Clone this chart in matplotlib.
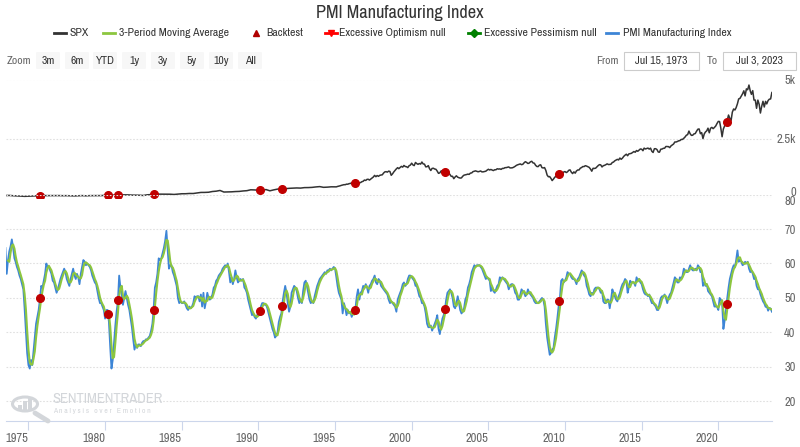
import numpy as np
import pandas as pd
import matplotlib
matplotlib.use("Agg")
from matplotlib import pyplot as plt
from matplotlib import font_manager
import matplotlib.dates as mdates
from matplotlib.lines import Line2D
from matplotlib.patches import FancyBboxPatch, Circle, Rectangle
from matplotlib.transforms import offset_copy


# PMI Manufacturing Index, one value per month (Jun 1973 .. Jun 2023),
# plotted on the release date (first day of the following month)
pmi_1970s = [64.5, 57, 61, 63.5, 65, 67, 64.5,
             61.5, 60.5, 59, 58, 56.5, 55.5, 54, 52.5, 47, 40.5, 34, 30.5,
             29.5, 32, 30.5, 34.5, 38.5, 42.5, 44.5, 46.5, 49.5, 53.5, 53, 55,
             57, 60, 59, 59, 58, 57, 55, 54.5, 53, 51.5, 52.5, 54,
             55.5, 56.5, 57.5, 58.5, 57.5, 55.5, 54.5, 53.5, 55.5, 57, 58.5, 56.5,
             55.5, 57, 56, 54, 57, 59, 61, 60.5, 59.5, 60, 59.5, 59,
             58, 56.5, 55.5, 54.5, 54, 52, 50, 48.5, 48.5, 47.5, 46.5, 44]
pmi_1980s = [46.5, 46.5, 43, 36, 29.5, 32, 37, 42, 46, 49, 56.5, 53,
             51, 48, 50, 52, 50, 48, 46.5, 44, 41.5, 38, 35, 36.5,
             35.5, 36.5, 36.5, 36, 37, 37.5, 37.5, 38, 38, 38.5, 39, 40.5,
             42.5, 46.5, 53, 54.5, 57, 61.5, 61, 61.5, 63, 64.5, 66.5, 69.5,
             64, 58.5, 59.5, 59.5, 57.5, 56.5, 55, 53.5, 50, 48.5, 49, 48.5,
             48.5, 49, 48, 47, 46.5, 47.5, 47, 47.5, 48.5, 50.5, 50, 50.5,
             50.5, 49, 51, 47.5, 51.5, 47, 49, 51.5, 50, 49.5, 50, 51,
             53, 53.5, 55, 55.5, 56.5, 57, 57.5, 58.5, 59, 59.5, 59, 60,
             57.5, 54.5, 56, 54, 55.5, 58, 56, 54.5, 55, 55.5, 55, 55.5,
             53, 52.5, 51.5, 49.5, 48, 46.5, 45, 45.5, 44.5, 44, 45, 45.5]
pmi_1990s = [46, 47.5, 48.5, 48.5, 48, 48, 47, 45.5, 44, 42.5, 41, 40,
             38.5, 39, 40, 43, 44.5, 45.5, 49, 51.5, 53.5, 51.5, 48.5, 46,
             47.5, 51.5, 52.5, 53.5, 53, 52, 50, 48.5, 49.5, 48.5, 52, 54.5,
             55, 53.5, 51.5, 49.5, 48.5, 49, 48.5, 50.5, 52, 53.5, 54.5, 55.5,
             56, 56.5, 57, 57.5, 57, 58, 58, 58.5, 58, 58.5, 59, 58.5,
             56, 53.5, 51.5, 50.5, 49.5, 45.5, 48.5, 47, 45, 46.5, 45.5, 46,
             44.5, 45.5, 45.5, 47, 50.5, 52.5, 49.5, 51.5, 52, 53.5, 53, 54,
             53, 51.5, 53.5, 54, 55, 55.5, 56.5, 54.5, 54, 55.5, 55, 53.5,
             53, 52.5, 52, 51.5, 51, 49.5, 48.5, 49, 48.5, 48, 47.5, 46,
             49.5, 50.5, 51.5, 52.5, 54, 54.5, 53.5, 54, 55.5, 56.5, 56.5, 56]
pmi_2000s = [55.5, 55, 53.5, 53.5, 52, 50.5, 50, 48.5, 48.5, 47.5, 45.5, 42.5,
             41.5, 41.5, 42, 40.5, 41.5, 42.5, 43.5, 45, 41, 39.5, 42, 44,
             45, 46.5, 49.5, 51.5, 52, 52.5, 51.5, 50, 47.5, 47, 48.5, 50.5,
             48.5, 46.5, 45.5, 46, 47, 49.5, 50.5, 53, 54, 55.5, 57.5, 58.5,
             59.5, 59, 59.5, 59.5, 59.5, 59, 58.5, 57.5, 56.5, 55.5, 56, 55.5,
             55, 52, 53, 52, 51.5, 52.5, 53.5, 54, 56, 55.5, 56, 55.5,
             55, 54.5, 54, 52.5, 53.5, 54, 54, 53, 51.5, 51, 49.5, 49.5,
             51, 52.5, 52, 51.5, 50.5, 51, 52.5, 51.5, 51, 50.5, 50, 49,
             48.5, 48.5, 48.5, 49, 49.5, 50, 49.5, 47.5, 42.5, 38.5, 36, 33.5,
             34, 35, 35.5, 38.5, 41, 44, 47.5, 50, 55, 55.5, 54.5, 55]
pmi_2010s = [56, 57.5, 57, 57, 56, 55.5, 55.5, 55, 54, 55.5, 56, 57,
             58, 57.5, 56.5, 56, 53.5, 52.5, 51, 50.5, 51.5, 51, 52.5, 53,
             53, 53, 52.5, 51.5, 52, 49, 48.5, 48.5, 49.5, 49.5, 47, 49.5,
             52.5, 51.5, 50.5, 49.5, 49, 50.5, 51.5, 53, 54, 54.5, 55.5, 55,
             51.5, 53, 55, 54.5, 54.5, 54.5, 53.5, 56, 55, 55.5, 54.5, 54,
             52.5, 51.5, 51, 51, 50.5, 51, 49.5, 48.5, 48.5, 48, 47.5, 46.5,
             46.5, 48.5, 50, 50.5, 50.5, 51, 50, 48.5, 50, 51, 51.5, 53,
             54.5, 56, 55.5, 54.5, 54.5, 56, 55.5, 56.5, 58.5, 58, 57.5, 57.5,
             58.5, 59.5, 58.5, 58, 58, 58.5, 58, 59.5, 59, 57.5, 57.5, 53.5,
             54.5, 53.5, 54, 52, 51.5, 51, 50.5, 49, 47.5, 47.5, 47.5, 46.5]
pmi_2020s = [50, 49.5, 48.5, 41, 43.5, 46.5, 50, 53, 55.5, 57, 58.5, 59.5,
             59, 61, 63.8, 60.5, 61, 60.5, 59.5, 59.8, 60.5, 60, 60.5, 58.5,
             57.5, 58, 57, 55.5, 56, 53.5, 52.5, 52.5, 51, 50, 49, 48.4,
             47.4, 47.7, 46.3, 47.1, 46.9, 46]

# S&P 500: quarterly 1973-1994, month-end closes 1995-2023
spx_quarterly = [105, 108,
                 96, 90, 80, 70, 77, 87, 89, 89, 101, 102, 104, 102,
                 102, 98, 99, 92, 89, 97, 101, 93, 100, 101, 104, 102,
                 114, 106, 122, 127, 130, 133, 131, 122, 120, 116, 107, 134,
                 145, 164, 163, 163, 163, 160, 150, 166, 179, 180, 191, 190,
                 212, 235, 236, 243, 274, 288, 318, 252, 257, 261, 272, 278,
                 297, 309, 346, 340, 329, 330, 356, 304, 343, 375, 387, 392,
                 408, 414, 424, 418, 438, 440, 448, 467, 481, 450, 458, 472]
spx_1990s = [470, 487, 500, 514, 533, 545, 562, 561, 584, 582, 605, 615,
             636, 640, 645, 654, 669, 670, 639, 651, 687, 705, 757, 740,
             786, 791, 757, 801, 848, 885, 954, 899, 947, 915, 955, 970,
             980, 1049, 1101, 1112, 1091, 1134, 1121, 957, 1017, 1099, 1164, 1229,
             1280, 1238, 1286, 1335, 1302, 1373, 1329, 1320, 1283, 1363, 1389, 1469]
spx_2000s = [1394, 1366, 1499, 1452, 1421, 1455, 1431, 1518, 1437, 1429, 1315, 1320,
             1366, 1240, 1160, 1249, 1256, 1224, 1211, 1134, 1041, 1060, 1139, 1148,
             1130, 1107, 1147, 1077, 1067, 990, 912, 916, 815, 886, 936, 880,
             856, 841, 848, 917, 964, 975, 990, 1008, 996, 1051, 1058, 1112,
             1131, 1145, 1126, 1107, 1121, 1141, 1102, 1104, 1115, 1130, 1174, 1212,
             1181, 1204, 1181, 1157, 1192, 1191, 1234, 1220, 1229, 1207, 1249, 1248,
             1280, 1281, 1295, 1311, 1270, 1270, 1277, 1304, 1336, 1378, 1401, 1418,
             1438, 1407, 1421, 1482, 1531, 1503, 1455, 1474, 1527, 1549, 1481, 1468,
             1379, 1331, 1323, 1386, 1400, 1280, 1267, 1283, 1166, 969, 896, 903,
             826, 735, 798, 873, 919, 919, 987, 1021, 1057, 1036, 1096, 1115]
spx_2010s = [1074, 1104, 1169, 1187, 1089, 1031, 1102, 1049, 1141, 1183, 1181, 1258,
             1286, 1327, 1326, 1364, 1345, 1321, 1292, 1219, 1131, 1253, 1247, 1258,
             1312, 1366, 1408, 1398, 1310, 1362, 1379, 1407, 1441, 1412, 1416, 1426,
             1498, 1515, 1569, 1598, 1631, 1606, 1686, 1633, 1682, 1757, 1806, 1848,
             1783, 1859, 1872, 1884, 1924, 1960, 1931, 2003, 1972, 2018, 2068, 2059,
             1995, 2105, 2068, 2086, 2107, 2063, 2104, 1972, 1920, 2079, 2080, 2044,
             1940, 1932, 2060, 2065, 2097, 2099, 2174, 2171, 2168, 2126, 2199, 2239,
             2279, 2364, 2363, 2384, 2412, 2423, 2470, 2472, 2519, 2575, 2648, 2674,
             2824, 2714, 2641, 2648, 2705, 2718, 2816, 2902, 2914, 2712, 2760, 2507,
             2704, 2784, 2834, 2946, 2752, 2942, 2980, 2926, 2977, 3038, 3141, 3231]
spx_2020s = [3226, 2954, 2585, 2912, 3044, 3100, 3271, 3500, 3363, 3270, 3622, 3756,
             3714, 3811, 3973, 4181, 4204, 4298, 4395, 4523, 4308, 4605, 4567, 4766,
             4516, 4374, 4530, 4132, 4132, 3785, 4130, 3955, 3586, 3872, 4080, 3840,
             4077, 3970, 4109, 4169, 4180, 4450]

backtest_dates = ["1975-10-05", "1980-03-10", "1980-11-03", "1983-03-01", "1990-02-03",
                  "1991-07-20", "1996-04-20", "2002-03-03", "2009-08-20", "2020-07-16"]

year_ticks = [1975, 1980, 1985, 1990, 1995, 2000, 2005, 2010, 2015, 2020]
spx_ticks = [0, 2500, 5000]
spx_tick_labels = ["0", "2.5k", "5k"]
pmi_ticks = [20, 30, 40, 50, 60, 70, 80]
zoom_buttons = ["3m", "6m", "YTD", "1y", "3y", "5y", "10y", "All"]
legend_names = ["SPX", "3-Period Moving Average", "Backtest", "Excessive Optimism null",
                "Excessive Pessimism null", "PMI Manufacturing Index"]

# a narrow face would be closest; otherwise Liberation Sans at smaller sizes
installed = sorted({f.name for f in font_manager.fontManager.ttflist})
narrow = [n for n in installed if "Narrow" in n or "Condensed" in n]
if narrow:
    main_font, k = narrow[0], 1.2
else:
    main_font, k = "Liberation Sans", 1.0
plt.rcParams['font.family'] = [main_font, 'DejaVu Sans']

c_spx = "#333333"
c_ma = "#8cc63f"
c_pmi = "#3d85d6"
c_dot = "#c00000"
c_grid = "#e0e0e0"
c_lbl = "#666666"

pmi = np.array(pmi_1970s + pmi_1980s + pmi_1990s + pmi_2000s + pmi_2010s + pmi_2020s)
pmi_dates = pd.date_range("1973-07-01", periods=len(pmi), freq="MS")
pmi_ma = pd.Series(pmi).rolling(3).mean().values

spx_monthly = spx_1990s + spx_2000s + spx_2010s + spx_2020s
spx_dates = list(pd.date_range("1973-07-01", periods=len(spx_quarterly), freq="QS-JAN")) + \
    list(pd.date_range("1995-01-31", periods=len(spx_monthly), freq="ME"))
spx = np.array(spx_quarterly + spx_monthly, dtype=float)

bt = pd.to_datetime(backtest_dates)
bt_num = mdates.date2num(bt)
bt_spx = np.interp(bt_num, mdates.date2num(spx_dates), spx)
bt_pmi = np.interp(bt_num, mdates.date2num(pmi_dates), pmi)


def fx(px):
    return px / 800.0


def fy(py):
    return 1 - py / 447.0


fig = plt.figure(figsize=(8, 4.47), dpi=100)
fig.patch.set_facecolor("white")

x0, x1 = 6, 772
ax_top = fig.add_axes([fx(x0), fy(198), (x1 - x0) / 800, (198 - 79.5) / 447])
ax_bot = fig.add_axes([fx(x0), fy(421), (x1 - x0) / 800, (421 - 194.6) / 447])

xlim = (pd.Timestamp("1973-07-15"), pd.Timestamp("2023-07-03"))
ylab_size = 7.5 * k

for ax in (ax_top, ax_bot):
    ax.set_xlim(xlim)
    ax.set_facecolor("none")
    for s in ("top", "left", "right", "bottom"):
        ax.spines[s].set_visible(False)
    ax.yaxis.tick_right()
    ax.grid(axis="y", color=c_grid, lw=0.8, ls=(0, (1.5, 1.5)))
    ax.tick_params(axis="y", length=0, pad=17, labelsize=ylab_size, labelcolor=c_lbl)

# top pane: SPX
ax_top.plot(spx_dates, spx, color=c_spx, lw=1.1, zorder=3)
ax_top.plot(bt, bt_spx, "o", color=c_dot, ms=5.5, zorder=4)
ax_top.set_ylim(0, 5000)
ax_top.set_yticks(spx_ticks)
ax_top.set_yticklabels([""] + spx_tick_labels[1:], ha="right")
ax_top.set_xticks([])

# bottom pane: PMI
ax_bot.plot(pmi_dates, pmi, color=c_pmi, lw=1.3, zorder=3)
ax_bot.plot(pmi_dates, pmi_ma, color=c_ma, lw=1.5, zorder=4)
ax_bot.plot(bt, bt_pmi, "o", color=c_dot, ms=5.5, zorder=5)
ax_bot.set_ylim(14.28, 80)
ax_bot.set_yticks(pmi_ticks)
ax_bot.set_yticklabels([str(v) for v in pmi_ticks[:-1]] + [""], ha="right")
ax_bot.spines["bottom"].set_visible(True)
ax_bot.spines["bottom"].set_color("#ccd6eb")
ax_bot.set_xticks([pd.Timestamp(f"{y}-01-01") for y in year_ticks])
ax_bot.set_xticklabels([str(y) for y in year_ticks], ha="right")
ax_bot.tick_params(axis="x", length=6.5, color="#ccd6eb", labelsize=7.5 * k,
                   labelcolor=c_lbl, pad=2.5)

# the two labels where the panes meet sit on top of each other in the
# original; pull them a little apart
pt_px = 72.0 / 100
tr_top = offset_copy(ax_top.get_yaxis_transform(), fig=fig, x=24 * pt_px, y=6 * pt_px,
                     units="points")
ax_top.text(1.0, spx_ticks[0], spx_tick_labels[0], transform=tr_top, ha="right",
            va="center", fontsize=ylab_size, color=c_lbl)
tr_bot = offset_copy(ax_bot.get_yaxis_transform(), fig=fig, x=24 * pt_px, y=-7 * pt_px,
                     units="points")
ax_bot.text(1.0, pmi_ticks[-1], str(pmi_ticks[-1]), transform=tr_bot, ha="right",
            va="center", fontsize=ylab_size, color=c_lbl)

# title
fig.text(0.5, fy(13), "PMI Manufacturing Index", ha="center", va="center",
         fontsize=11 * k, color="#333333")

# legend, drawn by hand to keep the spacing
ly = fy(33)
items = [
    (60, 70, dict(color=c_spx, lw=2), None),
    (109, 119, dict(color=c_ma, lw=2), None),
    (256, 266, None, dict(marker="^", color="#b00000", ms=5)),
    (331, 339, dict(color="#ff0000", lw=2), dict(marker="v", color="#ff0000", ms=5)),
    (474, 484, dict(color="#008000", lw=2), dict(marker="D", color="#008000", ms=4)),
    (612, 623, dict(color=c_pmi, lw=2), None),
]
for (sx, tx, line_kw, mark_kw), name in zip(items, legend_names):
    if line_kw is not None:
        fig.add_artist(Line2D([fx(sx - 6), fx(sx + 6)], [ly, ly], **line_kw))
    if mark_kw is not None:
        fig.add_artist(Line2D([fx(sx)], [ly], linestyle="none", **mark_kw))
    fig.text(fx(tx), ly, name, ha="left", va="center", fontsize=7 * k,
             fontweight="bold", color="#333333")

# range selector
by = fy(60.5)
fig.text(fx(7), by, "Zoom", ha="left", va="center", fontsize=7 * k, color=c_lbl)
bx = [36, 65, 93, 122, 151, 180, 209, 238]
for left, lab in zip(bx, zoom_buttons):
    fig.add_artist(FancyBboxPatch((fx(left), fy(69)), 24 / 800, 17 / 447,
                                  boxstyle="round,pad=0,rounding_size=0.002",
                                  fc="#f7f7f7", ec="none"))
    fig.text(fx(left + 12), by, lab, ha="center", va="center", fontsize=7 * k,
             color="#333333")

fig.text(fx(596), by, "From", ha="left", va="center", fontsize=7 * k, color=c_lbl)
fig.text(fx(707), by, "To", ha="left", va="center", fontsize=7 * k, color=c_lbl)
for left, right, lab in [(624, 699, "Jul 15, 1973"), (723, 796, "Jul 3, 2023")]:
    fig.add_artist(Rectangle((fx(left), fy(70)), (right - left) / 800, 18 / 447,
                             fc="white", ec="#cccccc", lw=0.8))
    fig.text(fx((left + right) / 2), by, lab, ha="center", va="center", fontsize=7 * k,
             color="#333333")

# watermark
wm = "#d3d6da"
fig.add_artist(Circle((fx(25), fy(404)), 12.5 / 800, transform=fig.transFigure,
                      fc="none", ec=wm, lw=2.2))
for bxp, bh in [(18, 6), (23, 10), (28, 14)]:
    fig.add_artist(Rectangle((fx(bxp), fy(411)), 4 / 800, bh / 447, fc=wm, ec="none"))
fig.add_artist(Line2D([fx(35), fx(48)], [fy(413), fy(421)], color=wm, lw=3.5,
                      solid_capstyle="round"))
fig.text(fx(52), fy(399), "SENTIMENTRADER", ha="left", va="center", fontsize=10.5,
         color=wm)
fig.text(fx(53), fy(411), "A n a l y s i s   o v e r   E m o t i o n", ha="left",
         va="center", fontsize=5.5, color=wm)

fig.savefig("out.png", dpi=100, facecolor="white")
